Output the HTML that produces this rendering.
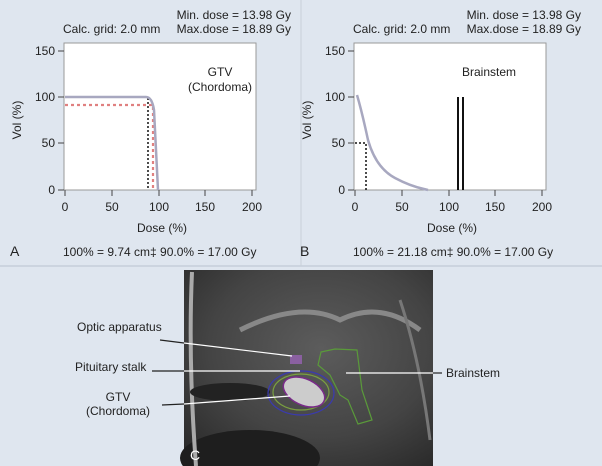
<!DOCTYPE html>
<html><head><style>
body{margin:0;width:602px;height:466px;overflow:hidden;background:#dfe6ef;font-family:"Liberation Sans",sans-serif;}
svg{position:absolute;left:0;top:0}
text{font-family:"Liberation Sans",sans-serif;font-size:12px;fill:#222}
</style></head><body>
<svg width="602" height="466" viewBox="0 0 602 466">
<defs>
<radialGradient id="br" cx="0.55" cy="0.4" r="0.75">
<stop offset="0" stop-color="#5c5c5c"/><stop offset="0.6" stop-color="#444"/><stop offset="1" stop-color="#2a2a2a"/></radialGradient>
</defs>
<rect width="602" height="466" fill="#dfe6ef"/>
<line x1="0" y1="266" x2="602" y2="266" stroke="#b8c2cf"/>
<line x1="301" y1="0" x2="301" y2="266" stroke="#c8d0da"/>
<g>
<text x="291" y="19" text-anchor="end">Min. dose = 13.98 Gy</text>
<text x="291" y="33" text-anchor="end">Max.dose = 18.89 Gy</text>
<text x="63" y="33">Calc. grid: 2.0 mm</text>
<rect x="64" y="43" width="192" height="147" fill="#fff" stroke="#999"/>
<g stroke="#444"><line x1="58" y1="51" x2="64" y2="51"/><line x1="58" y1="97" x2="64" y2="97"/><line x1="58" y1="143" x2="64" y2="143"/><line x1="58" y1="190" x2="64" y2="190"/>
<line x1="65" y1="190" x2="65" y2="196"/><line x1="112" y1="190" x2="112" y2="196"/><line x1="159" y1="190" x2="159" y2="196"/><line x1="205" y1="190" x2="205" y2="196"/><line x1="252" y1="190" x2="252" y2="196"/></g>
<g text-anchor="end"><text x="55" y="55">150</text><text x="55" y="101">100</text><text x="55" y="147">50</text><text x="55" y="194">0</text></g>
<g text-anchor="middle"><text x="65" y="211">0</text><text x="112" y="211">50</text><text x="159" y="211">100</text><text x="205" y="211">150</text><text x="252" y="211">200</text>
<text x="162" y="232">Dose (%)</text><text x="220" y="76">GTV</text><text x="220" y="91">(Chordoma)</text></g>
<text transform="translate(21,120) rotate(-90)" text-anchor="middle">Vol (%)</text>
<polyline points="65,105 153,105 153,190" fill="none" stroke="#e08080" stroke-width="2.2" stroke-dasharray="3,3"/>
<polyline points="148,98 148,190" fill="none" stroke="#111" stroke-width="1.5" stroke-dasharray="2,2"/>
<path d="M65,97 L146,97 Q152,97 154,110 L158,190" fill="none" stroke="#a8a8c0" stroke-width="2.5"/>
<text x="10" y="256" style="font-size:14px">A</text>
<text x="63" y="256">100% = 9.74 cm‡  90.0% = 17.00 Gy</text>
</g>
<g>
<text x="581" y="19" text-anchor="end">Min. dose = 13.98 Gy</text>
<text x="581" y="33" text-anchor="end">Max.dose = 18.89 Gy</text>
<text x="353" y="33">Calc. grid: 2.0 mm</text>
<rect x="354" y="43" width="192" height="147" fill="#fff" stroke="#999"/>
<g stroke="#444"><line x1="348" y1="51" x2="354" y2="51"/><line x1="348" y1="97" x2="354" y2="97"/><line x1="348" y1="143" x2="354" y2="143"/><line x1="348" y1="190" x2="354" y2="190"/>
<line x1="355" y1="190" x2="355" y2="196"/><line x1="402" y1="190" x2="402" y2="196"/><line x1="449" y1="190" x2="449" y2="196"/><line x1="495" y1="190" x2="495" y2="196"/><line x1="542" y1="190" x2="542" y2="196"/></g>
<g text-anchor="end"><text x="345" y="55">150</text><text x="345" y="101">100</text><text x="345" y="147">50</text><text x="345" y="194">0</text></g>
<g text-anchor="middle"><text x="355" y="211">0</text><text x="402" y="211">50</text><text x="449" y="211">100</text><text x="495" y="211">150</text><text x="542" y="211">200</text>
<text x="452" y="232">Dose (%)</text></g>
<text x="489" y="76" text-anchor="middle">Brainstem</text>
<text transform="translate(311,120) rotate(-90)" text-anchor="middle">Vol (%)</text>
<line x1="458" y1="97" x2="458" y2="190" stroke="#111" stroke-width="2"/>
<line x1="463" y1="97" x2="463" y2="190" stroke="#111" stroke-width="2"/>
<polyline points="355,143 366,143 366,190" fill="none" stroke="#111" stroke-width="1.5" stroke-dasharray="2,2"/>
<path d="M357,95 Q362,112 368,140 Q376,168 395,178 Q410,186 424,189 L428,190" fill="none" stroke="#a8a8c0" stroke-width="2.5"/>
<text x="300" y="256" style="font-size:14px">B</text>
<text x="353" y="256">100% = 21.18 cm‡  90.0% = 17.00 Gy</text>
</g>
<rect x="184" y="270" width="249" height="196" fill="url(#br)"/>
<ellipse cx="250" cy="458" rx="70" ry="28" fill="#1e1e1e"/>
<path d="M192,272 Q188,360 196,466" stroke="#aaa" stroke-width="4" fill="none"/>
<path d="M240,330 Q300,300 340,320 Q380,300 420,330" stroke="#888" stroke-width="5" fill="none"/>
<path d="M400,300 Q420,360 430,440" stroke="#777" stroke-width="3" fill="none"/>
<ellipse cx="230" cy="392" rx="40" ry="9" fill="#222"/>
<path d="M321,352 L335,349 L357,350 L362,390 L372,420 L358,424 L348,400 L340,395 L330,375 L318,365 Z" fill="none" stroke="#5a9a3a" stroke-width="1.2"/>
<ellipse cx="301" cy="393" rx="33" ry="22" fill="none" stroke="#3a3ab0" stroke-width="1.2"/>
<ellipse cx="301" cy="392" rx="28" ry="18" fill="none" stroke="#7aa040" stroke-width="1.2"/>
<ellipse cx="304" cy="392" rx="22" ry="13" fill="#ccc" stroke="#7a2a8a" stroke-width="1.5" transform="rotate(25 304 392)"/>
<rect x="290" y="355" width="12" height="9" fill="#8a60a0"/>
<text x="190" y="460" style="font-size:14px;fill:#fff">C</text>
<text x="77" y="331">Optic apparatus</text>
<text x="75" y="371">Pituitary stalk</text>
<text x="118" y="401" text-anchor="middle">GTV</text>
<text x="118" y="415" text-anchor="middle">(Chordoma)</text>
<text x="446" y="377">Brainstem</text>
<g stroke="#fff" stroke-width="1.2"><line x1="184" y1="343" x2="292" y2="356"/><line x1="184" y1="371" x2="300" y2="371"/><line x1="184" y1="404" x2="290" y2="396"/><line x1="346" y1="373" x2="433" y2="373"/></g>
<g stroke="#222" stroke-width="1.2"><line x1="160" y1="340" x2="184" y2="343"/><line x1="152" y1="371" x2="184" y2="371"/><line x1="162" y1="405" x2="184" y2="404"/><line x1="433" y1="373" x2="442" y2="373"/></g>
</svg>
</body></html>
